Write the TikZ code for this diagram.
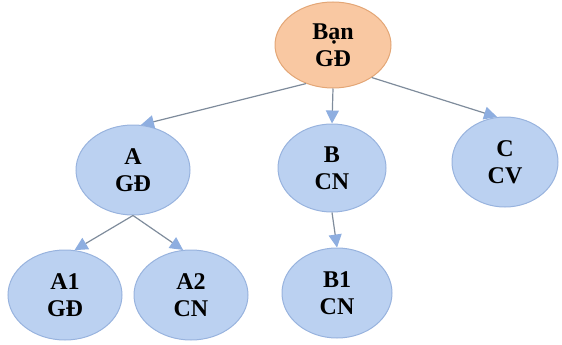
\documentclass[tikz,border=0pt]{standalone}
\usepackage{fontspec}
\setmainfont{Liberation Serif}
\usetikzlibrary{arrows.meta,shapes.geometric}
\definecolor{orfill}{HTML}{F9C8A2}
\definecolor{ordraw}{HTML}{E3A676}
\definecolor{blfill}{HTML}{BBD1F1}
\definecolor{bldraw}{HTML}{98B3DE}
\definecolor{linec}{HTML}{7F8C9C}
\definecolor{tipc}{HTML}{8EAEE0}
\tikzset{
  ell/.style={ellipse, draw=bldraw, fill=blfill, line width=1pt, align=center,
    font=\fontsize{24}{27}\selectfont\bfseries, inner sep=0pt},
  boss/.style={ell, draw=ordraw, fill=orfill},
  conn/.style={draw=linec, line width=1.2pt,
    -{Triangle[length=13pt,width=13pt,fill=tipc,color=tipc]}}
}
\begin{document}
\begin{tikzpicture}[x=1pt,y=1pt]
\useasboundingbox (0,0) rectangle (562,-345);
\node[boss, minimum width=116pt, minimum height=86pt] (Ban) at (333,-45) {Bạn\\GĐ};
\node[ell, minimum width=114pt, minimum height=90pt] (A) at (133,-170) {A\\GĐ};
\node[ell, minimum width=108pt, minimum height=88pt] (B) at (332,-168) {B\\CN};
\node[ell, minimum width=106pt, minimum height=90pt] (C) at (505,-162) {C\\CV};
\node[ell, minimum width=114pt, minimum height=90pt] (A1) at (65,-295) {A1\\GĐ};
\node[ell, minimum width=114pt, minimum height=90pt] (A2) at (191,-295) {A2\\CN};
\node[ell, minimum width=110pt, minimum height=90pt] (B1) at (337,-293) {B1\\CN};
\draw[conn] (Ban.235) -- (A.80);
\draw[conn] (Ban.south) -- (B.north);
\draw[conn] (Ban.-40) -- (C.100);
\draw[conn] (A.south) -- (A1.78);
\draw[conn] (A.south) -- (A2.100);
\draw[conn] (B.south) -- (B1.north);
\end{tikzpicture}
\end{document}
